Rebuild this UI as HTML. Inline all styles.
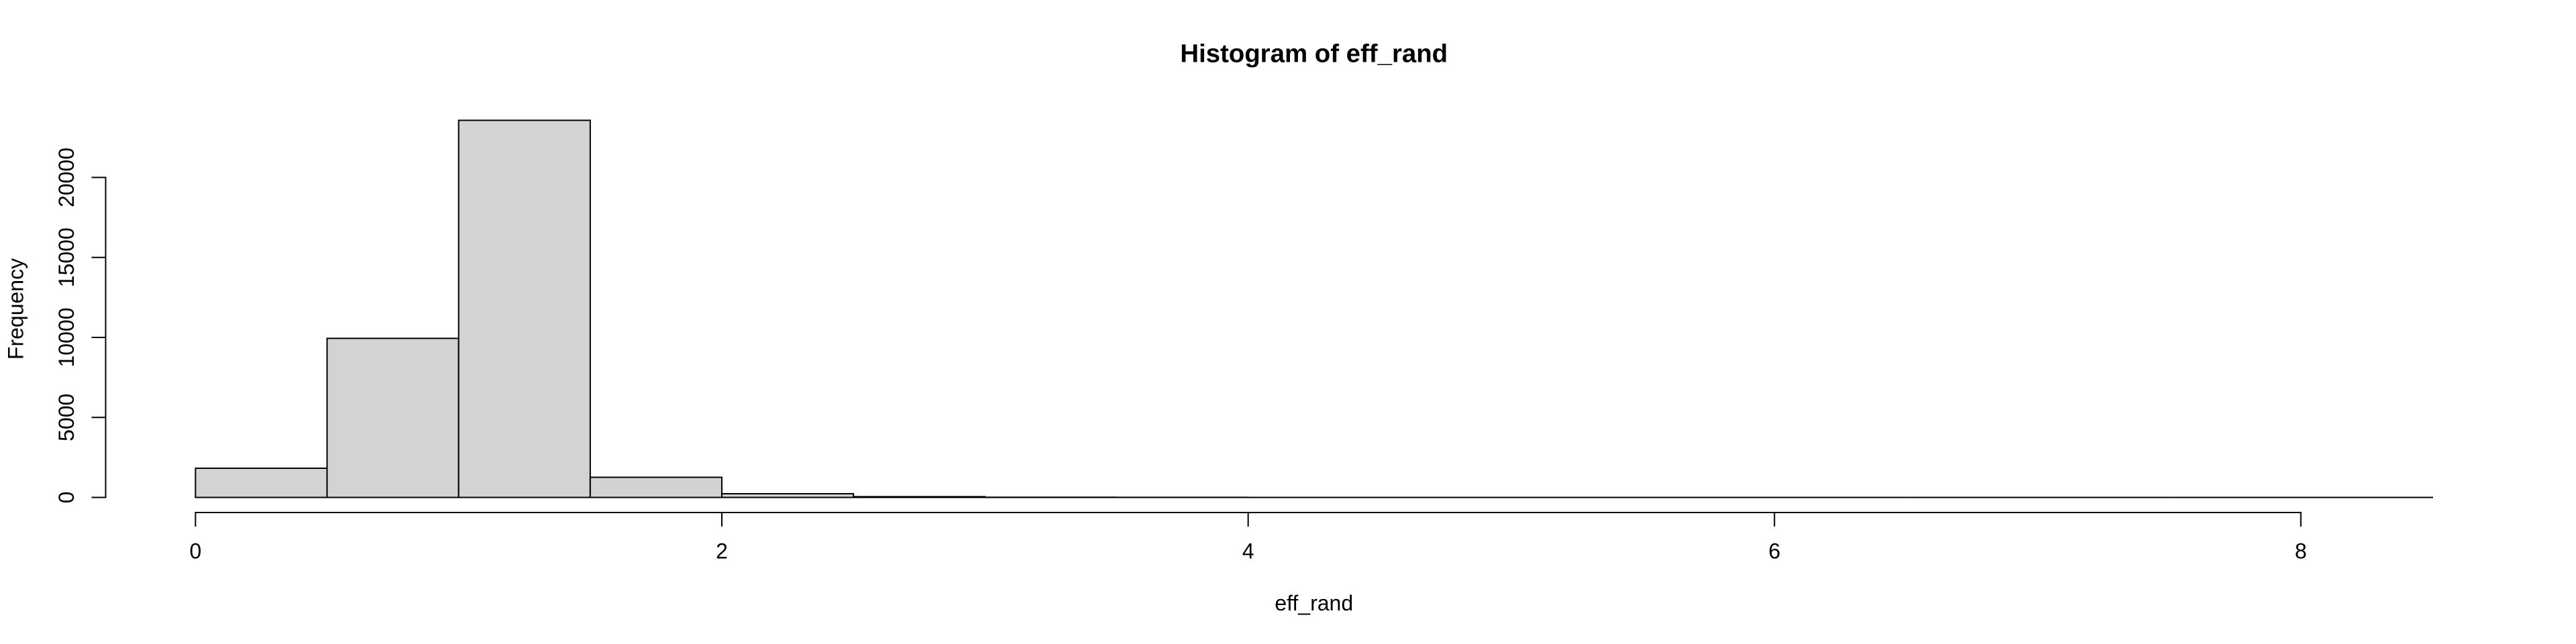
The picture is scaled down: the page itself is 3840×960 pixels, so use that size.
<!DOCTYPE html>
<html>
<head>
<meta charset="utf-8">
<title>Histogram of eff_rand</title>
<style>
  html, body { margin: 0; padding: 0; background: #fff; }
  svg { display: block; }
  text { font-family: "Liberation Sans", Arial, sans-serif; fill: #000; }
</style>
</head>
<body>
<svg id="chart" xmlns="http://www.w3.org/2000/svg" width="3840" height="960" viewBox="0 0 3840 960">
  <rect x="0" y="0" width="3840" height="960" fill="#ffffff"/>
  <text x="1958.7" y="92.7" font-size="38.4" font-weight="bold" text-anchor="middle">Histogram of eff_rand</text>
  <text x="1958.7" y="910" font-size="32" text-anchor="middle">eff_rand</text>
  <text transform="translate(34.3 460.5) rotate(-90)" font-size="32" text-anchor="middle">Frequency</text>
  <g id="bars"></g>
  <g id="x-axis"></g>
  <g id="y-axis"></g>
</svg>
<script>
const binStarts = [0, 0.5, 1, 1.5, 2, 2.5, 3, 3.5, 4, 4.5, 5, 5.5, 6, 6.5, 7, 7.5, 8];
const binWidth = 0.5;
const binCounts = [1824, 9940, 23570, 1258, 230, 45, 10, 4, 2, 1, 1, 1, 0, 0, 0, 0, 1];
const xTicks = [0, 2, 4, 6, 8];
const yTicks = [0, 5000, 10000, 15000, 20000];

const NS = 'http://www.w3.org/2000/svg';
const xScale = v => 291.4 + v * 392.3;
const yScale = v => 741.5 - v * (477 / 20000);

function line(parent, x1, y1, x2, y2) {
  const el = document.createElementNS(NS, 'line');
  el.setAttribute('x1', x1);
  el.setAttribute('y1', y1);
  el.setAttribute('x2', x2);
  el.setAttribute('y2', y2);
  el.setAttribute('stroke', '#000');
  el.setAttribute('stroke-width', '2');
  el.setAttribute('stroke-linecap', 'square');
  parent.appendChild(el);
  return el;
}

const barsGroup = document.getElementById('bars');
binStarts.forEach((start, i) => {
  const x0 = xScale(start);
  const x1 = xScale(start + binWidth);
  const yTop = yScale(binCounts[i]);
  const yBase = yScale(0);
  const bar = document.createElementNS(NS, 'path');
  
  
  bar.setAttribute('d', 'M' + x0 + ' ' + yBase + 'V' + yTop + 'H' + x1 + 'V' + yBase + 'Z');
  bar.setAttribute('fill', '#d3d3d3');
  bar.setAttribute('stroke', '#000');
  bar.setAttribute('stroke-width', '2');
  barsGroup.appendChild(bar);
});

const xAxisGroup = document.getElementById('x-axis');
const xAxisY = 764;
const xDomain = line(xAxisGroup, xScale(xTicks[0]), xAxisY, xScale(xTicks[xTicks.length - 1]), xAxisY);


xTicks.forEach(t => {
  const tick = line(xAxisGroup, xScale(t), xAxisY, xScale(t), 784);
  
  
  const label = document.createElementNS(NS, 'text');
  
  
  label.setAttribute('x', xScale(t));
  label.setAttribute('y', 832.7);
  label.setAttribute('font-size', '32');
  label.setAttribute('text-anchor', 'middle');
  label.textContent = String(t);
  xAxisGroup.appendChild(label);
});

const yAxisGroup = document.getElementById('y-axis');
const yAxisX = 157.5;
const yDomain = line(yAxisGroup, yAxisX, yScale(yTicks[0]), yAxisX, yScale(yTicks[yTicks.length - 1]));


yTicks.forEach(t => {
  const tick = line(yAxisGroup, 137.5, yScale(t), yAxisX, yScale(t));
  
  
  const label = document.createElementNS(NS, 'text');
  
  
  label.setAttribute('transform', 'translate(110 ' + yScale(t) + ') rotate(-90)');
  label.setAttribute('font-size', '32');
  label.setAttribute('text-anchor', 'middle');
  label.textContent = String(t);
  yAxisGroup.appendChild(label);
});
</script>
</body>
</html>
